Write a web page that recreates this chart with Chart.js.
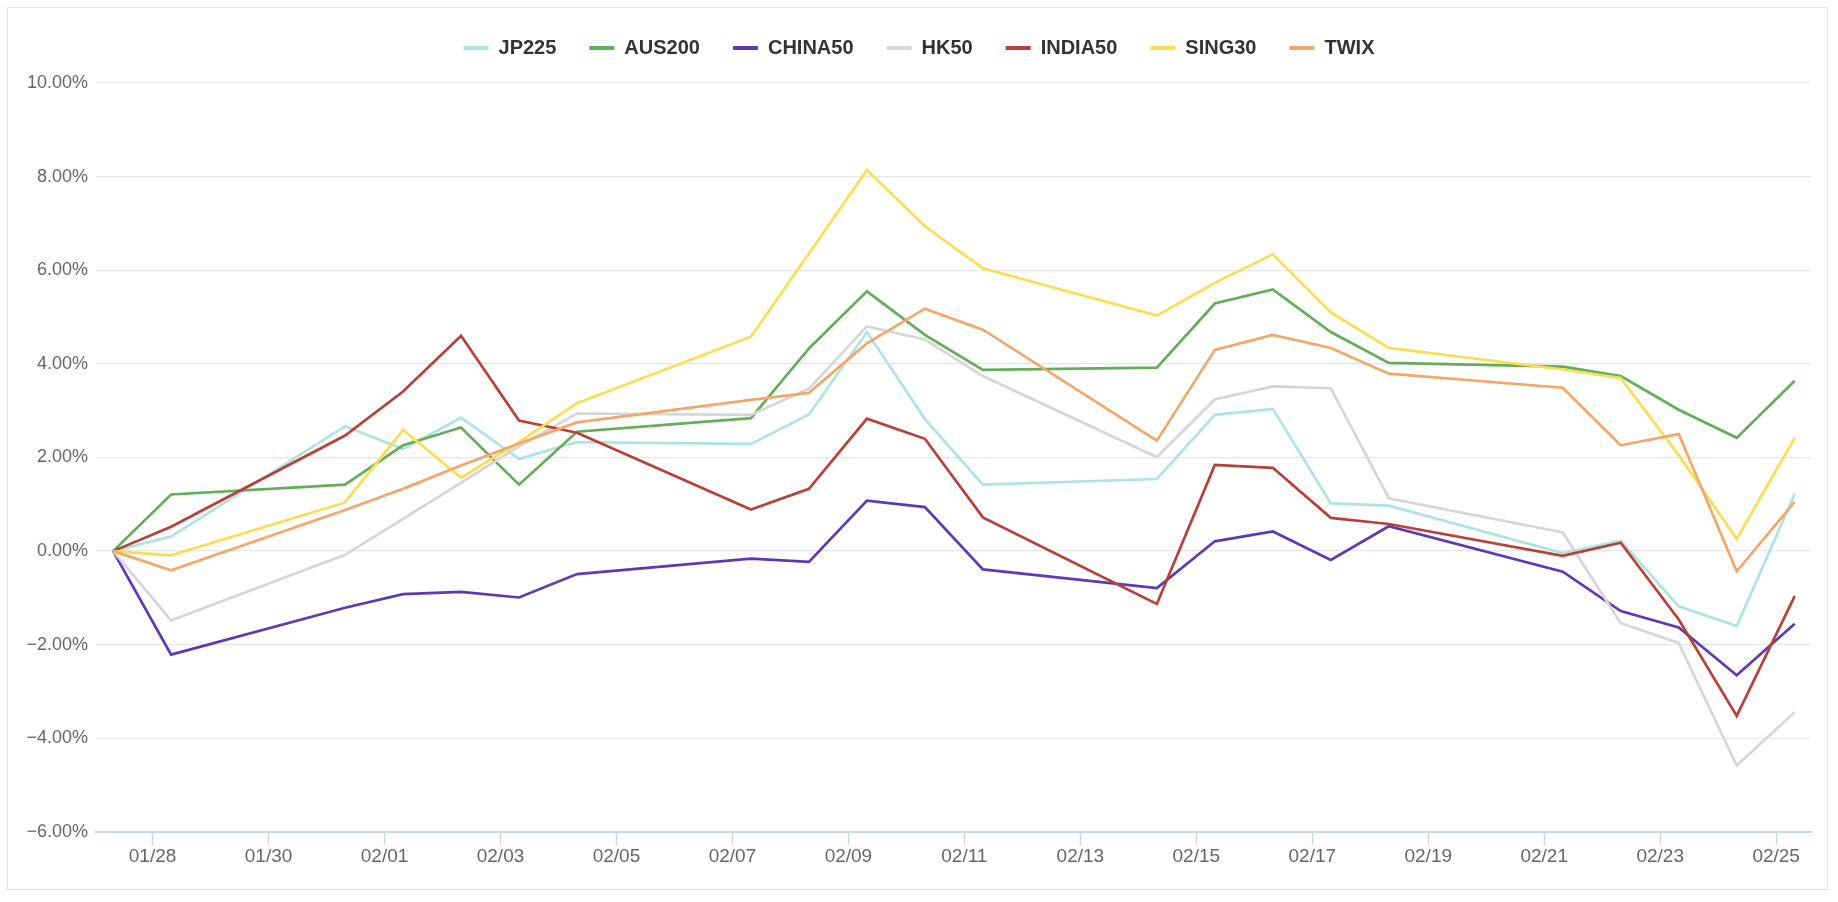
<!DOCTYPE html>
<html>
<head>
<meta charset="utf-8">
<title>Indici</title>
<script src="https://cdn.jsdelivr.net/npm/chart.js@4.4.1/dist/chart.umd.min.js"></script>
<style>
  html, body { margin: 0; padding: 0; background: #fff; }
  #cornice {
    position: absolute; left: 7px; top: 7px;
    width: 1821px; height: 883px;
    border: 1px solid #dfe5e9; box-sizing: border-box;
  }
  #grafico { position: absolute; left: 0; top: 0; }
</style>
</head>
<body>
<div id="cornice"></div>
<canvas id="grafico" width="1838" height="902"></canvas>
<script>
// giorni di contrattazione (ora di rilevazione 07:40 UTC)
const dates = [
  "2022-01-27", "2022-01-28", "2022-01-31", "2022-02-01", "2022-02-02", "2022-02-03",
  "2022-02-04", "2022-02-07", "2022-02-08", "2022-02-09", "2022-02-10", "2022-02-11",
  "2022-02-14", "2022-02-15", "2022-02-16", "2022-02-17", "2022-02-18", "2022-02-21",
  "2022-02-22", "2022-02-23", "2022-02-24", "2022-02-25"
];
const sampleTime = "T07:40:00Z";

const seriesNames = ["JP225", "AUS200", "CHINA50", "HK50", "INDIA50", "SING30", "TWIX"];
const seriesColors = ["#ade5de", "#64ad5a", "#5b3ab5", "#d6d6d6", "#b9403a", "#fbde50", "#f3a76a"];

// variazione % rispetto al 27/01
const jp225 = [0, 0.31, 2.67, 2.18, 2.85, 1.97, 2.33, 2.29, 2.92, 4.68, 2.82, 1.42, 1.54, 2.91, 3.04, 1.02, 0.97, -0.04, 0.22, -1.18, -1.60, 1.22];
const aus200 = [0, 1.21, 1.42, 2.26, 2.64, 1.42, 2.55, 2.84, 4.33, 5.55, 4.62, 3.87, 3.92, 5.29, 5.59, 4.68, 4.02, 3.94, 3.74, 3.02, 2.42, 3.64];
const china50 = [0, -2.21, -1.21, -0.92, -0.87, -0.99, -0.49, -0.16, -0.23, 1.08, 0.94, -0.39, -0.79, 0.21, 0.42, -0.19, 0.53, -0.44, -1.28, -1.63, -2.65, -1.55];
const hk50 = [0, -1.48, -0.08, 0.69, 1.46, 2.24, 2.94, 2.91, 3.47, 4.80, 4.52, 3.74, 2.01, 3.24, 3.52, 3.48, 1.13, 0.40, -1.54, -1.96, -4.58, -3.44];
const india50 = [0, 0.52, 2.47, 3.41, 4.60, 2.79, 2.53, 0.89, 1.33, 2.83, 2.40, 0.72, -1.13, 1.84, 1.78, 0.71, 0.58, -0.10, 0.18, -1.46, -3.52, -0.96];
const sing30 = [0, -0.09, 1.04, 2.59, 1.57, 2.33, 3.16, 4.58, 6.36, 8.14, 6.94, 6.04, 5.03, 5.73, 6.34, 5.10, 4.34, 3.88, 3.70, 2.05, 0.26, 2.42];
const twix = [0, -0.41, 0.88, 1.33, 1.83, 2.30, 2.75, 3.23, 3.38, 4.44, 5.18, 4.73, 2.36, 4.30, 4.62, 4.34, 3.79, 3.49, 2.26, 2.50, -0.43, 1.05];

const tickLabels = ["01/28", "01/30", "02/01", "02/03", "02/05", "02/07", "02/09", "02/11",
  "02/13", "02/15", "02/17", "02/19", "02/21", "02/23", "02/25"];
const yTickMin = -6;
const yTickMax = 10;
const yTickStep = 2;

const axisStart = "2022-01-27T00:35:00Z";
const axisEnd = "2022-02-25T14:25:00Z";

const origine = Date.UTC(2022, 0, 27);
function giorno(s) {
  return (Date.parse(s) - origine) / 86400000;
}

const valori = [jp225, aus200, china50, hk50, india50, sing30, twix];

const datasets = seriesNames.map(function (nome, i) {
  return {
    label: nome,
    data: valori[i].map(function (v, j) {
      return { x: giorno(dates[j] + sampleTime), y: v };
    }),
    borderColor: seriesColors[i],
    backgroundColor: seriesColors[i],
    borderWidth: 2.7,
    pointRadius: 0,
    tension: 0,
    fill: false,
    order: -i,
  };
});

Chart.defaults.font.family = '"Liberation Sans", Arial, sans-serif';

const ctx = document.getElementById("grafico").getContext("2d");
const grafico = new Chart(ctx, {
  type: "line",
  data: { datasets: datasets },
  options: {
    responsive: false,
    animation: false,
    layout: { padding: { top: 5, right: 27, bottom: 0, left: 27 } },
    plugins: {
      tooltip: { enabled: false },
      legend: {
        position: "top",
        labels: {
          boxWidth: 25,
          boxHeight: 4,
          padding: 33,
          color: "#333333",
          font: { size: 20, weight: "bold" },
          sort: function (a, b) { return a.datasetIndex - b.datasetIndex; },
          generateLabels: function (chart) {
            const items = Chart.defaults.plugins.legend.labels.generateLabels(chart);
            items.forEach(function (it) {
              it.lineWidth = 0;
              it.fillStyle = it.strokeStyle;
            });
            return items;
          },
        },
      },
      subtitle: {
        display: true,
        text: "",
        weight: 500,
        font: { size: 1, lineHeight: 1 },
        padding: { top: 14, bottom: 0 },
      },
    },
    scales: {
      x: {
        type: "linear",
        min: giorno(axisStart),
        max: giorno(axisEnd),
        afterBuildTicks: function (scale) {
          scale.ticks = tickLabels.map(function (l) {
            return { value: giorno("2022-" + l.replace("/", "-") + "T00:00:00Z") };
          });
        },
        afterFit: function (scale) { scale.height = 70; },
        grid: {
          drawOnChartArea: false,
          drawTicks: true,
          tickLength: 13,
          tickColor: "#ccd6eb",
          tickWidth: 1.5,
        },
        border: { display: true, color: "#ccd6eb", width: 2 },
        ticks: {
          color: "#666666",
          font: { size: 19 },
          padding: 0,
          maxRotation: 0,
          autoSkip: false,
          callback: function (v, i) { return tickLabels[i]; },
        },
      },
      y: {
        min: yTickMin,
        max: yTickMax,
        afterFit: function (scale) { scale.width = 69; },
        grid: { color: "#e6e6e6", lineWidth: 1.3, drawTicks: false },
        border: { display: false },
        ticks: {
          stepSize: yTickStep,
          color: "#666666",
          font: { size: 18 },
          padding: 8,
          callback: function (v) {
            return v.toFixed(2).replace("-", "\u2212") + "%";
          },
        },
      },
    },
  },
});
</script>
</body>
</html>
